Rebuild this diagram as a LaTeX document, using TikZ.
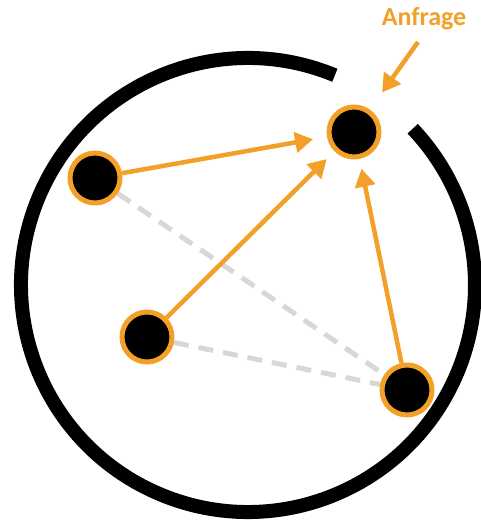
\documentclass[tikz,border=0pt]{standalone}
\usepackage{fontspec}
\newfontfamily\labelfont{Carlito}
\usetikzlibrary{arrows.meta,backgrounds}
\definecolor{reqorange}{RGB}{243,160,40}
\definecolor{linkgray}{RGB}{215,215,215}

\begin{document}
\begin{tikzpicture}[x=1pt,y=1pt,
    peer/.style={circle,draw=reqorange,fill=black,line width=5pt,
      minimum size=50pt,inner sep=0pt},
    query/.style={draw=reqorange,line width=4.5pt,
      -{Triangle[length=18pt,width=20pt]}},
    link/.style={draw=linkgray,line width=5pt,dash pattern=on 15pt off 10pt}]
  \useasboundingbox (0,0) rectangle (480,524);
  % Ring with an opening for the request
  \draw[line width=14pt] (248,239) ++(67.5:227) arc[start angle=67.5,end angle=403.5,radius=227];
  % Peers
  \node[peer] (top) at (354,392) {};
  \node[peer] (left) at (95,346) {};
  \node[peer] (mid) at (147,187) {};
  \node[peer] (right) at (407,134) {};
  % Known links (dashed)
  \begin{pgfonlayer}{background}
    \draw[link] (left) -- (right);
    \draw[link] (mid) -- (right);
  \end{pgfonlayer}
  % Forwarded requests
  \draw[query,shorten >=14pt] (left) -- (top);
  \draw[query,shorten >=11pt] (mid) -- (top);
  \draw[query,shorten >=10pt] (right) -- (top);
  % Incoming request
  \node[text=reqorange,font=\labelfont\bfseries\fontsize{26}{30}\selectfont] (anfrage) at (424,505) {Anfrage};
  \coordinate (req) at (418,482);
  \draw[query,shorten >=21pt] (req) -- (top);
\end{tikzpicture}
\end{document}
